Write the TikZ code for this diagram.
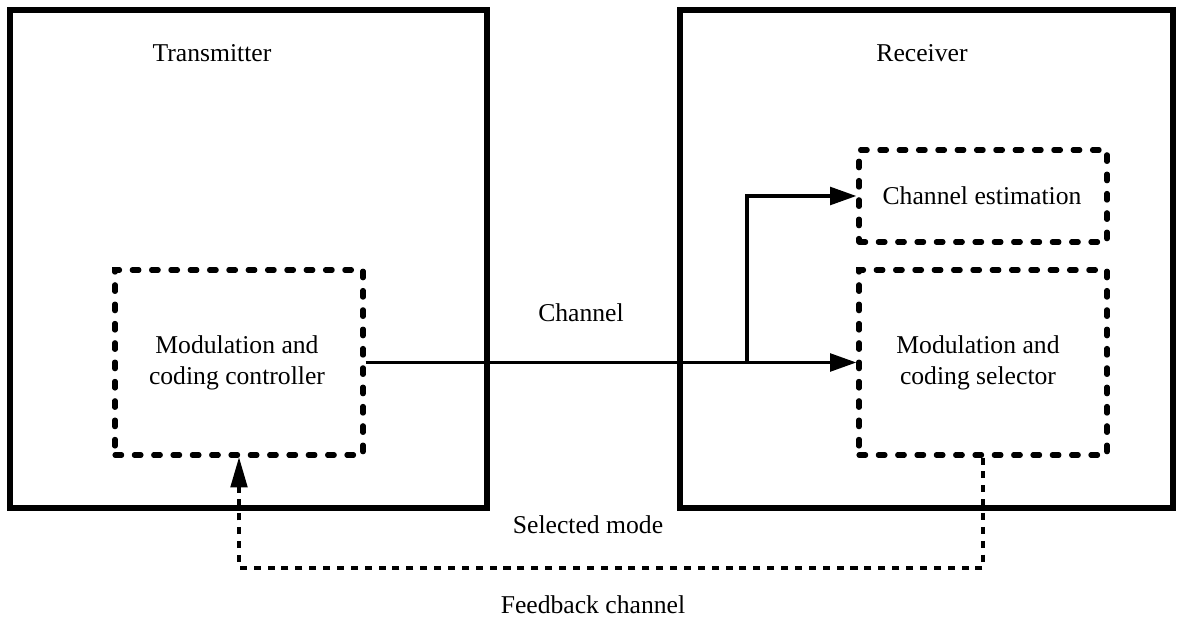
\documentclass[tikz,border=0pt]{standalone}
\usepackage{fontspec}
\setmainfont{Liberation Serif}
\usetikzlibrary{fit,arrows.meta}
\begin{document}
\begin{tikzpicture}[x=0.02cm,y=-0.02cm,
  outerbox/.style={draw,line width=3.4pt,inner sep=0pt},
  dashbox/.style={draw,line width=2.9pt,line cap=round,dash pattern=on 3.8pt off 7.2pt,inner sep=0pt},
  lbl/.style={font=\fontsize{14.6}{17.5}\selectfont,align=center,inner sep=0pt},
  sig/.style={line width=2.1pt,-{Triangle[length=15pt,width=10pt]}},
  fb/.style={line width=2pt,dash pattern=on 4pt off 3.9pt,-{Triangle[length=17pt,width=10pt,line width=0pt]}}]
\fill[white] (0,0) rectangle (1184,618);
\useasboundingbox (0,0) rectangle (1184,618);
% outer boxes
\node[outerbox,fit={(10,10)(487,508)}] (tx) {};
\node[outerbox,fit={(680,10)(1173,508)}] (rx) {};
\node[lbl] (txl) at (212,53) {Transmitter};
\node[lbl] (rxl) at (922,53) {Receiver};
% inner dashed boxes
\node[dashbox,fit={(115,270)(363,455)}] (ctrl) {};
\node[dashbox,fit={(859,150)(1107,242)}] (est) {};
\node[dashbox,fit={(859,270)(1107,455)}] (sel) {};
\node[lbl] (ctrll) at (237,363) {Modulation and\\coding controller};
\node[lbl] (estl) at (982,196) {Channel estimation};
\node[lbl] (sell) at (978,363) {Modulation and\\coding selector};
% channel
\coordinate (br) at (747,362.5);
\draw[sig] (ctrl.east) -- (sel.west);
\draw[sig] (br) |- (est.west);
\node[lbl] (chl) at (581,313) {Channel};
% feedback
\coordinate (fbr) at (983,568);
\draw[fb] (sel.south) -- (sel.south |- fbr) -| (ctrl.south);
\node[lbl] (sml) at (588,525) {Selected mode};
\node[lbl] (fbl) at (593,605) {Feedback channel};
\end{tikzpicture}
\end{document}
